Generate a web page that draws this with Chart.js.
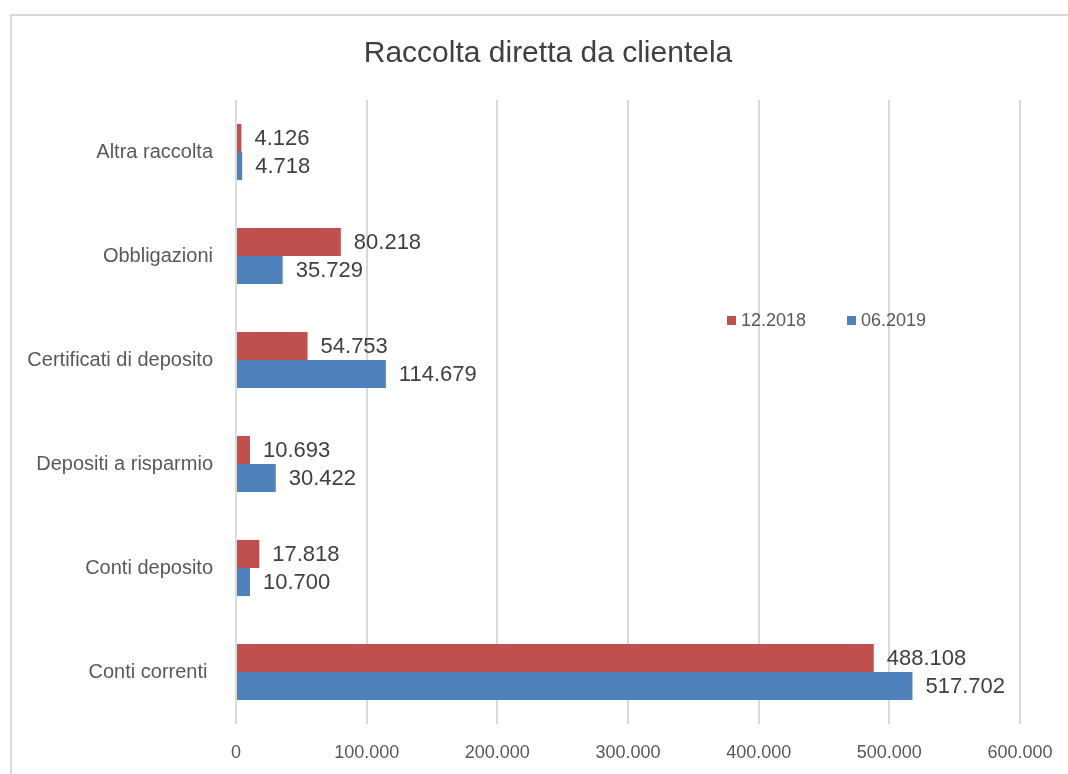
<!DOCTYPE html>
<html>
<head>
<meta charset="utf-8">
<script src="https://cdn.jsdelivr.net/npm/chart.js@4.4.1/dist/chart.umd.min.js"></script>
<style>
  html, body { margin: 0; padding: 0; background: #ffffff; }
  #wrap { width: 1068px; height: 774px; position: relative; }
</style>
</head>
<body>
<div id="wrap"><canvas id="c" width="1068" height="774"></canvas></div>
<script>
// ---- Data ----
const categories = ['Altra raccolta', 'Obbligazioni', 'Certificati di deposito', 'Depositi a risparmio', 'Conti deposito', 'Conti correnti '];
const seriesNames = ['12.2018', '06.2019'];
const values2018 = [4126, 80218, 54753, 10693, 17818, 488108];
const values2019 = [4718, 35729, 114679, 30422, 10700, 517702];
const xMin = 0;
const xMax = 600000;
const xStep = 100000;
const chartTitle = 'Raccolta diretta da clientela';

// ---- Styles ----
const RED = '#C0504D';
const BLUE = '#4F81BD';
const FONT = '"Liberation Sans", Arial, sans-serif';

function fmt(v) {
  return String(Math.round(v)).replace(/\B(?=(\d{3})+(?!\d))/g, '.');
}

Chart.defaults.font.family = FONT;

const frame = {
  id: 'frame',
  beforeDraw(chart) {
    const ctx = chart.ctx;
    ctx.save();
    ctx.strokeStyle = '#D9D9D9';
    ctx.lineWidth = 2;
    ctx.strokeRect(11, 15, 1200, 900);
    ctx.restore();
  }
};

const valueLabels = {
  id: 'valueLabels',
  afterDatasetsDraw(chart) {
    const ctx = chart.ctx;
    ctx.save();
    ctx.font = '22px ' + FONT;
    ctx.fillStyle = '#404040';
    ctx.textAlign = 'left';
    ctx.textBaseline = 'middle';
    chart.data.datasets.forEach((ds, i) => {
      const meta = chart.getDatasetMeta(i);
      meta.data.forEach((bar, j) => {
        ctx.fillText(fmt(ds.data[j]), bar.x + 13, bar.y + 1);
      });
    });
    ctx.restore();
  }
};

const innerLegend = {
  id: 'innerLegend',
  afterDraw(chart) {
    const ctx = chart.ctx;
    const positions = [727, 847];
    ctx.save();
    ctx.font = '18px ' + FONT;
    ctx.textAlign = 'left';
    ctx.textBaseline = 'middle';
    chart.data.datasets.forEach((ds, i) => {
      const x = positions[i];
      ctx.fillStyle = ds.backgroundColor;
      ctx.fillRect(x, 316, 9, 9);
      ctx.fillStyle = '#595959';
      ctx.fillText(ds.label, x + 14, 321);
    });
    ctx.restore();
  }
};

new Chart(document.getElementById('c'), {
  type: 'bar',
  data: {
    labels: categories,
    datasets: [
      { label: seriesNames[0], data: values2018, backgroundColor: RED, borderWidth: 0, barPercentage: 1, categoryPercentage: 0.54 },
      { label: seriesNames[1], data: values2019, backgroundColor: BLUE, borderWidth: 0, barPercentage: 1, categoryPercentage: 0.54 }
    ]
  },
  options: {
    indexAxis: 'y',
    responsive: false,
    animation: false,
    devicePixelRatio: 1,
    layout: { padding: { left: 28, right: 0, top: 0, bottom: 0 } },
    plugins: {
      legend: { display: false },
      tooltip: { enabled: false },
      title: {
        display: true,
        text: chartTitle,
        color: '#404040',
        font: { family: FONT, size: 30, weight: 'normal' },
        padding: { top: 36, bottom: 28 }
      }
    },
    scales: {
      x: {
        type: 'linear',
        position: 'bottom',
        min: xMin,
        max: xMax,
        ticks: {
          stepSize: xStep,
          callback: (v) => fmt(v),
          color: '#595959',
          font: { size: 18 },
          padding: 18,
          maxRotation: 0
        },
        grid: { color: '#D9D9D9', lineWidth: 2, drawTicks: false },
        border: { display: false },
        afterFit(scale) { scale.height = 50; scale.paddingRight = 48; }
      },
      y: {
        type: 'category',
        ticks: { color: '#595959', font: { size: 20 }, padding: 23 },
        grid: { display: false, drawTicks: false },
        border: { display: false },
        afterFit(scale) { scale.width = 208; }
      }
    }
  },
  plugins: [frame, valueLabels, innerLegend]
});
</script>
</body>
</html>
